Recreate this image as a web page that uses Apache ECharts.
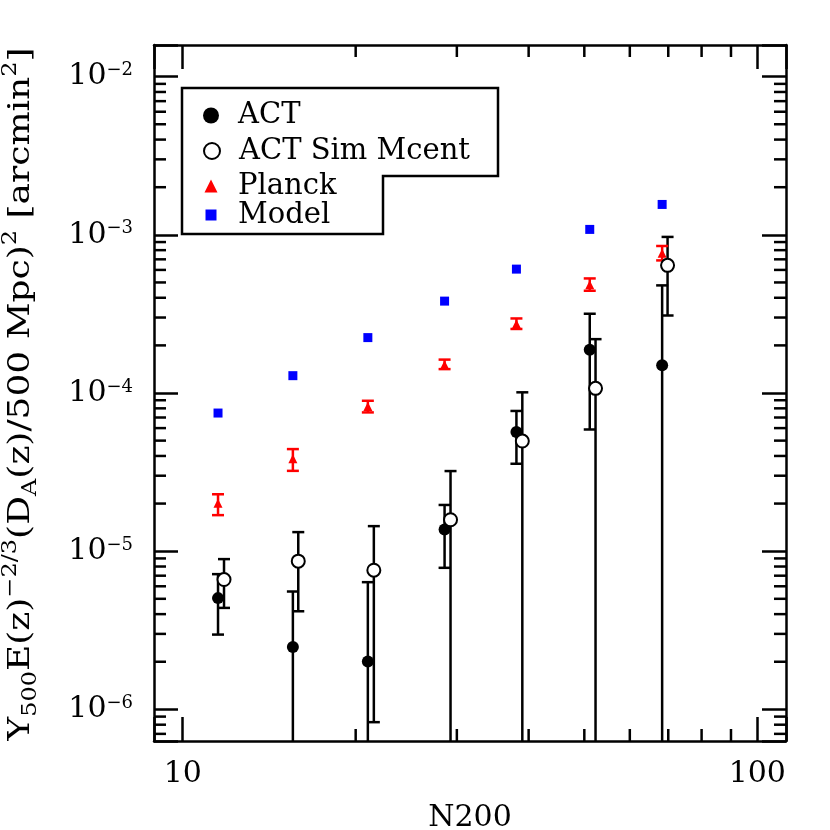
<!DOCTYPE html>
<html>
<head>
<meta charset="utf-8">
<script src="https://cdn.jsdelivr.net/npm/echarts@6/dist/echarts.min.js"></script>
<style>
  html, body { margin: 0; padding: 0; background: #fff; }
  #chart { width: 830px; height: 830px; }
</style>
</head>
<body>
<div id="chart"></div>
<script>
// N200 bins: ACT, Planck and Model share these, the sim points sit a little to the right
const n200 = [11.52, 15.55, 21.0, 28.56, 38.09, 51.1, 68.3];
const n200Sim = [11.80, 15.89, 21.51, 29.25, 39.0, 52.3, 69.8];

// ACT (filled); null lower bound means the bar runs off the bottom of the plot
const yAct = [5.05e-6, 2.48e-6, 2.01e-6, 1.37e-5, 5.66e-5, 1.88e-4, 1.50e-4];
const yActHi = [7.16e-6, 5.56e-6, 6.37e-6, 1.96e-5, 7.70e-5, 3.17e-4, 4.79e-4];
const yActLo = [2.97e-6, null, null, 7.85e-6, 3.57e-5, 5.88e-5, null];

// ACT Sim Mcent (open)
const ySim = [6.62e-6, 8.65e-6, 7.58e-6, 1.58e-5, 4.97e-5, 1.07e-4, 6.41e-4];
const ySimHi = [8.91e-6, 1.32e-5, 1.44e-5, 3.21e-5, 1.01e-4, 2.19e-4, 9.70e-4];
const ySimLo = [4.38e-6, 4.17e-6, 8.30e-7, null, null, null, 3.09e-4];

// Planck
const yPlanck = [2.01e-5, 3.84e-5, 8.22e-5, 1.509e-4, 2.73e-4, 4.83e-4, 7.64e-4];
const yPlanckHi = [2.29e-5, 4.42e-5, 8.93e-5, 1.626e-4, 2.96e-4, 5.30e-4, 8.50e-4];
const yPlanckLo = [1.69e-5, 3.22e-5, 7.54e-5, 1.416e-4, 2.54e-4, 4.43e-4, 6.89e-4];

// Model
const yModel = [7.47e-5, 1.287e-4, 2.24e-4, 3.81e-4, 6.07e-4, 1.082e-3, 1.556e-3];

// axis ranges and minor tick positions
const xMin = 8.913, xMax = 112.2;
const yMin = 6.31e-7, yMax = 1.585e-2;
const xMinorTicks = [20, 30, 40, 50, 60, 70, 80, 90];
const yMinorTicks = [
  7e-7, 8e-7, 9e-7,
  2e-6, 3e-6, 4e-6, 5e-6, 6e-6, 7e-6, 8e-6, 9e-6,
  2e-5, 3e-5, 4e-5, 5e-5, 6e-5, 7e-5, 8e-5, 9e-5,
  2e-4, 3e-4, 4e-4, 5e-4, 6e-4, 7e-4, 8e-4, 9e-4,
  2e-3, 3e-3, 4e-3, 5e-3, 6e-3, 7e-3, 8e-3, 9e-3
];

const FONT = "DejaVu Serif";
const LW = 2.5;

const chart = echarts.init(document.getElementById("chart"));

function seg(x1, y1, x2, y2, color) {
  return { type: "line", shape: { x1: x1, y1: y1, x2: x2, y2: y2 }, style: { stroke: color, lineWidth: LW } };
}

// vertical error bar with caps, drawn through the axes
function errorSeries(name, xs, ys, lo, hi, color) {
  return {
    type: "custom",
    name: name,
    z: 1,
    silent: true,
    clip: true,
    data: xs.map((x, i) => [x, ys[i]]),
    renderItem: function (params, api) {
      const i = params.dataIndex;
      const cs = params.coordSys;
      const x = api.coord([xs[i], ys[i]])[0];
      const yTop = api.coord([xs[i], hi[i]])[1];
      const yBot = lo[i] == null ? cs.y + cs.height : api.coord([xs[i], lo[i]])[1];
      const kids = [seg(x, yTop, x, yBot, color), seg(x - 6, yTop, x + 6, yTop, color)];
      if (lo[i] != null) kids.push(seg(x - 6, yBot, x + 6, yBot, color));
      return { type: "group", children: kids };
    }
  };
}

function isPow10(v) {
  const e = Math.log10(v);
  return Math.abs(e - Math.round(e)) < 1e-6;
}

const axisLine = { show: true, onZero: false, lineStyle: { color: "#000", width: LW } };
const axisTick = { show: true, inside: true, length: 24, lineStyle: { color: "#000", width: LW } };
const legendText = { fontFamily: FONT, fontSize: 29, color: "#000" };

const option = {
  animation: false,
  backgroundColor: "#fff",
  grid: { left: 154, right: 44, top: 45, bottom: 89, outerBoundsMode: "none", containLabel: false },
  xAxis: [
    {
      type: "log", logBase: 10, min: xMin, max: xMax, position: "bottom",
      axisLine: axisLine, axisTick: axisTick, splitLine: { show: false },
      axisLabel: {
        margin: 18, fontFamily: FONT, fontSize: 30, color: "#000",
        formatter: v => isPow10(v) ? String(Math.round(v)) : ""
      },
      name: "N200", nameLocation: "middle", nameGap: 62,
      nameTextStyle: { fontFamily: FONT, fontSize: 30, color: "#000" }
    },
    {
      type: "log", logBase: 10, min: xMin, max: xMax, position: "top",
      axisLine: axisLine, axisTick: axisTick, splitLine: { show: false }, axisLabel: { show: false }
    }
  ],
  yAxis: [
    {
      type: "log", logBase: 10, min: yMin, max: yMax, position: "left",
      axisLine: axisLine, axisTick: axisTick, splitLine: { show: false },
      axisLabel: {
        margin: 21,
        formatter: function (v) {
          if (!isPow10(v)) return "";
          return "{b|10}{s|\u2212" + Math.abs(Math.round(Math.log10(v))) + "}";
        },
        rich: {
          b: { fontFamily: FONT, fontSize: 30, lineHeight: 30, color: "#000" },
          s: { fontFamily: FONT, fontSize: 18, lineHeight: 24, verticalAlign: "top", color: "#000" }
        }
      }
    },
    {
      type: "log", logBase: 10, min: yMin, max: yMax, position: "right",
      axisLine: axisLine, axisTick: axisTick, splitLine: { show: false }, axisLabel: { show: false }
    }
  ],
  legend: [
    { data: [{ name: "ACT", icon: "circle" }], left: 203, top: 101, itemWidth: 16, itemHeight: 16, padding: 0,
      selectedMode: false, textStyle: Object.assign({ padding: [0, 0, 0, 14] }, legendText) },
    { data: [{ name: "ACT Sim Mcent", icon: "emptyCircle" }], left: 203, top: 136.5, itemWidth: 16, itemHeight: 16, padding: 0,
      selectedMode: false, textStyle: Object.assign({ padding: [0, 0, 0, 14] }, legendText) },
    { data: [{ name: "Planck", icon: "triangle" }], left: 204.5, top: 171.5, itemWidth: 13, itemHeight: 13, padding: 0,
      selectedMode: false, textStyle: Object.assign({ padding: [0, 0, 0, 15.5] }, legendText) },
    { data: [{ name: "Model", icon: "rect" }], left: 205.5, top: 200.5, itemWidth: 11, itemHeight: 11, padding: 0,
      selectedMode: false, textStyle: Object.assign({ padding: [0, 0, 0, 16.5] }, legendText) }
  ],
  graphic: [
    {
      // legend frame with the notch cut out of its lower right corner
      type: "polygon", silent: true,
      shape: { points: [[182, 88], [498, 88], [498, 176], [383, 176], [383, 234], [182, 234]] },
      style: { fill: null, stroke: "#000", lineWidth: LW }
    },
    {
      type: "text", x: 21, y: 394, rotation: Math.PI / 2, scaleX: 1.2, silent: true,
      style: {
        text: "{m|Y}{sub|500}{m|E(z)}{sup|\u22122/3}{m|(D}{sub|A}{m|(z)/500 Mpc)}{sup|2}{m| [arcmin}{sup|2}{m|]}",
        align: "center", verticalAlign: "middle", fill: "#000",
        rich: {
          m: { fontFamily: FONT, fontSize: 30, lineHeight: 40, fill: "#000" },
          sub: { fontFamily: FONT, fontSize: 20, lineHeight: 10, verticalAlign: "bottom", fill: "#000" },
          sup: { fontFamily: FONT, fontSize: 20, lineHeight: 19, verticalAlign: "top", fill: "#000" }
        }
      }
    }
  ],
  series: [
    errorSeries("ACT err", n200, yAct, yActLo, yActHi, "#000"),
    errorSeries("Sim err", n200Sim, ySim, ySimLo, ySimHi, "#000"),
    errorSeries("Planck err", n200, yPlanck, yPlanckLo, yPlanckHi, "#ff0000"),
    {
      type: "scatter", name: "Model", z: 3, symbol: "rect", symbolSize: 9,
      itemStyle: { color: "#0000ff", opacity: 1 },
      data: n200.map((x, i) => [x, yModel[i]])
    },
    {
      type: "scatter", name: "Planck", z: 3, symbol: "triangle", symbolSize: 9,
      itemStyle: { color: "#ff0000", opacity: 1 },
      data: n200.map((x, i) => [x, yPlanck[i]])
    },
    {
      type: "scatter", name: "ACT", z: 3, symbol: "circle", symbolSize: 12,
      itemStyle: { color: "#000", opacity: 1 },
      data: n200.map((x, i) => [x, yAct[i]])
    },
    {
      type: "scatter", name: "ACT Sim Mcent", z: 3, symbol: "emptyCircle", symbolSize: 13,
      itemStyle: { color: "#000", borderColor: "#000", borderWidth: 2.2, opacity: 1 },
      data: n200Sim.map((x, i) => [x, ySim[i]])
    },
    {
      // minor ticks on the bottom and top edges
      type: "custom", name: "xminor", silent: true, z: 4, clip: false,
      data: xMinorTicks.map(v => [v, 1e-4]),
      renderItem: function (params, api) {
        const cs = params.coordSys;
        const x = api.coord([api.value(0), 1e-4])[0];
        return { type: "group", children: [
          seg(x, cs.y + cs.height, x, cs.y + cs.height - 12, "#000"),
          seg(x, cs.y, x, cs.y + 12, "#000")
        ] };
      }
    },
    {
      // minor ticks on the left and right edges
      type: "custom", name: "yminor", silent: true, z: 4, clip: false,
      data: yMinorTicks.map(v => [20, v]),
      renderItem: function (params, api) {
        const cs = params.coordSys;
        const y = api.coord([20, api.value(1)])[1];
        return { type: "group", children: [
          seg(cs.x, y, cs.x + 12, y, "#000"),
          seg(cs.x + cs.width, y, cs.x + cs.width - 12, y, "#000")
        ] };
      }
    }
  ]
};

chart.setOption(option);
</script>
</body>
</html>
